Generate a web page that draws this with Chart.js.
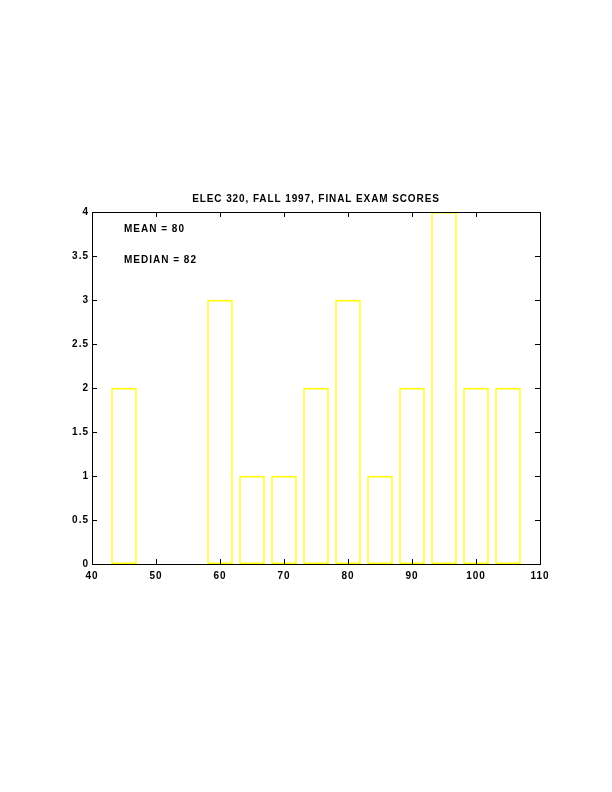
<!DOCTYPE html>
<html>
<head>
<meta charset="utf-8">
<script src="https://cdn.jsdelivr.net/npm/chart.js@4/dist/chart.umd.min.js"></script>
<style>
  html, body { margin: 0; padding: 0; background: #fff; }
</style>
</head>
<body>
<canvas id="hist" width="612" height="792"></canvas>
<script>
// histogram bin centers and counts (empty bins left out)
const binCenters = [45, 60, 65, 70, 75, 80, 85, 90, 95, 100, 105];
const binCounts = [2, 3, 1, 1, 2, 3, 1, 2, 4, 2, 2];
const xTicks = [40, 50, 60, 70, 80, 90, 100, 110];
const yTicks = [0, 0.5, 1, 1.5, 2, 2.5, 3, 3.5, 4];
const titleText = 'ELEC 320, FALL 1997, FINAL EXAM SCORES';
const notes = [
  { text: 'MEAN = 80', x: 45, y: 3.8 },
  { text: 'MEDIAN = 82', x: 45, y: 3.45 }
];

const FONT = '"Liberation Sans", Arial, sans-serif';

// wider letter spacing like the old plot font
const spacing = {
  id: 'spacing',
  beforeDraw(chart) { chart.ctx.letterSpacing = '1px'; }
};

// box + inward ticks on all four sides, title and the text notes
const boxPlugin = {
  id: 'boxTicks',
  afterDraw(chart) {
    const { ctx, chartArea: a } = chart;
    const xs = chart.scales.x, ys = chart.scales.y;
    const len = 5;
    ctx.save();
    ctx.strokeStyle = '#000';
    ctx.lineWidth = 1;
    ctx.strokeRect(Math.round(a.left) + 0.5, Math.round(a.top) + 0.5,
      Math.round(a.right - a.left), Math.round(a.bottom - a.top));
    ctx.beginPath();
    xTicks.forEach(v => {
      const px = Math.round(xs.getPixelForValue(v)) + 0.5;
      ctx.moveTo(px, a.bottom); ctx.lineTo(px, a.bottom - len);
      ctx.moveTo(px, a.top); ctx.lineTo(px, a.top + len);
    });
    yTicks.forEach(v => {
      const py = Math.round(ys.getPixelForValue(v)) + 0.5;
      ctx.moveTo(a.left, py); ctx.lineTo(a.left + len, py);
      ctx.moveTo(a.right, py); ctx.lineTo(a.right - len, py);
    });
    ctx.stroke();

    ctx.fillStyle = '#000';
    ctx.font = 'bold 10px ' + FONT;
    ctx.letterSpacing = '0.9px';
    ctx.textBaseline = 'middle';
    ctx.textAlign = 'center';
    ctx.fillText(titleText, (a.left + a.right) / 2, a.top - 13);
    ctx.textAlign = 'left';
    ctx.letterSpacing = '1px';
    notes.forEach(n => {
      ctx.fillText(n.text, xs.getPixelForValue(n.x), ys.getPixelForValue(n.y));
    });
    ctx.restore();
  }
};

new Chart(document.getElementById('hist'), {
  type: 'bar',
  data: {
    datasets: [{
      data: binCenters.map((c, i) => ({ x: c, y: binCounts[i] })),
      backgroundColor: 'rgba(0,0,0,0)',
      borderColor: '#ffff00',
      borderWidth: 1.5,
      borderSkipped: false,
      barPercentage: 0.8,
      categoryPercentage: 1
    }]
  },
  options: {
    responsive: false,
    animation: false,
    devicePixelRatio: 1,
    layout: { padding: { top: 212, right: 72, bottom: 0, left: 0 } },
    plugins: {
      legend: { display: false },
      tooltip: { enabled: false },
      title: { display: false }
    },
    scales: {
      x: {
        type: 'linear',
        min: 40, max: 110,
        offset: false,
        grid: { display: false, drawTicks: false },
        border: { display: false },
        afterBuildTicks: s => { s.ticks = xTicks.map(v => ({ value: v })); },
        afterFit: s => { s.height = 792 - 564; },
        ticks: {
          color: '#000', padding: 6, maxRotation: 0,
          font: { family: FONT, size: 10, weight: 'bold' },
          callback: v => String(v)
        }
      },
      y: {
        min: 0, max: 4,
        grid: { display: false, drawTicks: false },
        border: { display: false },
        afterBuildTicks: s => { s.ticks = yTicks.map(v => ({ value: v })); },
        afterFit: s => { s.width = 92; },
        ticks: {
          color: '#000', padding: 3,
          font: { family: FONT, size: 10, weight: 'bold' },
          callback: v => String(v)
        }
      }
    }
  },
  plugins: [spacing, boxPlugin]
});
</script>
</body>
</html>
